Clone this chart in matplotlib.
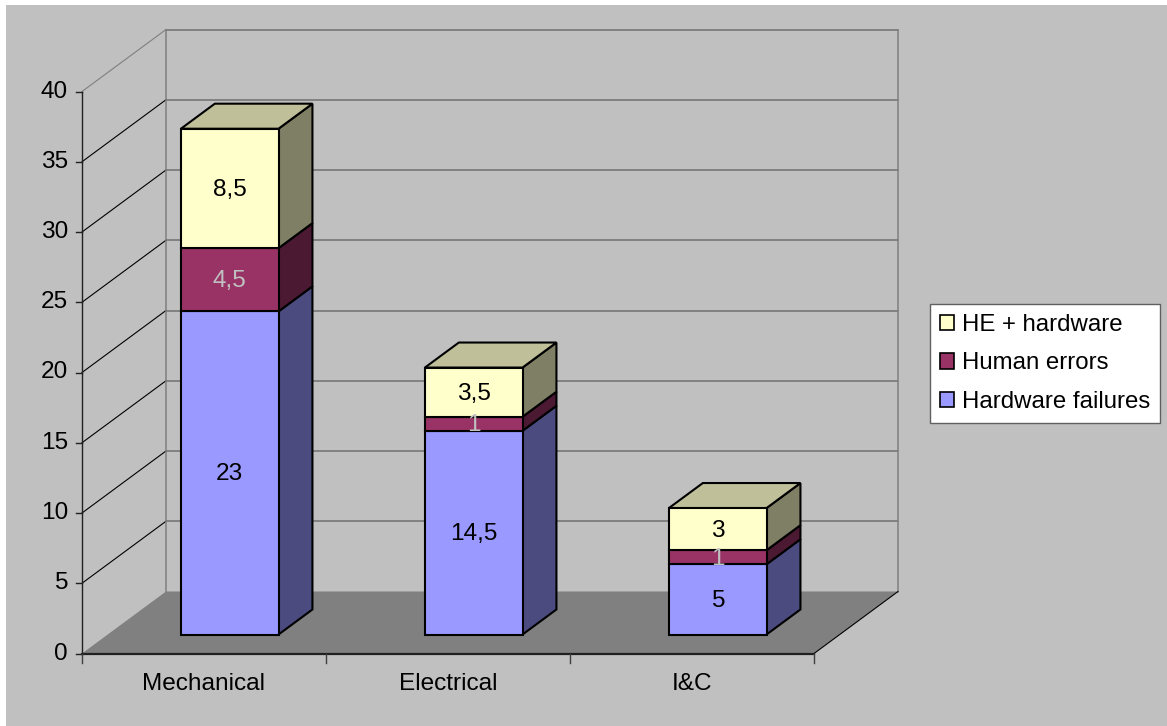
import numpy as np
import matplotlib
matplotlib.use("Agg")
import matplotlib.pyplot as plt
from matplotlib.patches import Polygon, Rectangle, Patch

plt.rcParams['font.family'] = ['Liberation Sans', 'DejaVu Sans']

# data
categories = ['Mechanical', 'Electrical', 'I&C']
hardware_failures = [23, 14.5, 5]
human_errors = [4.5, 1, 1]
he_hardware = [8.5, 3.5, 3]
y_ticks = [0, 5, 10, 15, 20, 25, 30, 35, 40]

series = [
    ('Hardware failures', hardware_failures, '#9999ff', '#4b4b7f', '#7373bf', 'black'),
    ('Human errors', human_errors, '#993366', '#4c1933', '#73264c', '#c0c0c0'),
    ('HE + hardware', he_hardware, '#ffffcc', '#7f7f66', '#bfbf99', 'black'),
]

# pseudo-3d geometry (category units horizontally, value units vertically)
W_PX, H_PX = 1167, 726
PXC = (814 - 82) / 3.0       # px per category
PXV = 14.05                  # px per value unit
X0, Y0 = 82, 653.5           # pixel position of front origin
DX = 84 / PXC                # full depth offset
DY = 62 / PXV
Z0, Z1 = 0.306, 0.71         # bar depth range
BAR_W = 0.40
FS = 17.6

def fmt(v):
    return ('%g' % v).replace('.', ',')

fig = plt.figure(figsize=(W_PX / 100, H_PX / 100), dpi=100, facecolor='white')
fig.add_artist(Rectangle((6 / W_PX, 0), 1, 1 - 5 / H_PX, transform=fig.transFigure,
                         facecolor='#c0c0c0', edgecolor='none', zorder=-5))
ax = fig.add_axes([0, 0, 1, 1])
ax.set_xlim(-X0 / PXC, (W_PX - X0) / PXC)
ax.set_ylim((Y0 - H_PX) / PXV, Y0 / PXV)
ax.axis('off')

ncat = len(categories)
ymax = y_ticks[-1]

# floor
ax.add_patch(Polygon([(0, 0), (ncat, 0), (ncat + DX, DY), (DX, DY)], closed=True,
                     facecolor='#808080', edgecolor='none', zorder=1))
ax.plot([ncat, ncat + DX], [0, DY], color='black', lw=0.8, zorder=2)
ax.plot([0, ncat], [0, 0], color='#202020', lw=1.6, zorder=2)

# back wall and side wall grid
for v in y_ticks[1:]:
    ax.plot([DX, ncat + DX], [v + DY, v + DY], color='#707070', lw=1.1, zorder=1)
    c = '#808080' if v == ymax else 'black'
    ax.plot([0, DX], [v, v + DY], color=c, lw=0.8, zorder=1)
ax.plot([DX, DX], [DY, ymax + DY], color='#808080', lw=1.1, zorder=1)
ax.plot([ncat + DX, ncat + DX], [DY, ymax + DY], color='#808080', lw=1.1, zorder=1)

# y axis
ax.plot([0, 0], [0, ymax], color='#202020', lw=1.0, zorder=2)
for v in y_ticks:
    ax.plot([-6 / PXC, 0], [v, v], color='#202020', lw=1.0, zorder=2)
    ax.text(-14 / PXC, v, str(v), ha='right', va='center', fontsize=FS)

# x axis ticks and labels
for i in range(ncat + 1):
    ax.plot([i, i], [0, -9 / PXV], color='#404040', lw=1.0, zorder=2)
for i, cat in enumerate(categories):
    ax.text(i + 0.5, (Y0 - 684) / PXV, cat, ha='center', va='center', fontsize=FS)

# bars
ox, oy = Z0 * DX, Z0 * DY
dx, dy = (Z1 - Z0) * DX, (Z1 - Z0) * DY
for i in range(ncat):
    left = i + 0.5 - BAR_W / 2 + ox
    right = left + BAR_W
    bottom = 0
    for k, (name, vals, front, side, top, tcol) in enumerate(series):
        v0 = bottom + oy
        v1 = bottom + vals[i] + oy
        ax.add_patch(Polygon([(right, v0), (right + dx, v0 + dy), (right + dx, v1 + dy), (right, v1)],
                             closed=True, facecolor=side, edgecolor='black', lw=1.5, zorder=5))
        ax.add_patch(Polygon([(left, v0), (right, v0), (right, v1), (left, v1)],
                             closed=True, facecolor=front, edgecolor='black', lw=1.5, zorder=6))
        if k == len(series) - 1:
            ax.add_patch(Polygon([(left, v1), (right, v1), (right + dx, v1 + dy), (left + dx, v1 + dy)],
                                 closed=True, facecolor=top, edgecolor='black', lw=1.5, zorder=5))
        ax.text((left + right) / 2, (v0 + v1) / 2 - 0.1, fmt(vals[i]), ha='center', va='center',
                fontsize=FS, color=tcol, zorder=7)
        bottom += vals[i]

# legend
handles = [Patch(facecolor=s[2], edgecolor='black', lw=1.2) for s in series[::-1]]
labels = [s[0] for s in series[::-1]]
leg = fig.legend(handles, labels, loc='upper left', bbox_to_anchor=(930 / W_PX, 1 - 304 / H_PX),
                 borderaxespad=0, fontsize=17.3, fancybox=False, framealpha=1,
                 edgecolor='#606060', handlelength=0.6, handleheight=0.6,
                 handletextpad=0.35, labelspacing=0.7, borderpad=0.4)
leg.get_frame().set_linewidth(1.0)

fig.savefig('out.png', dpi=100, facecolor=fig.get_facecolor())
